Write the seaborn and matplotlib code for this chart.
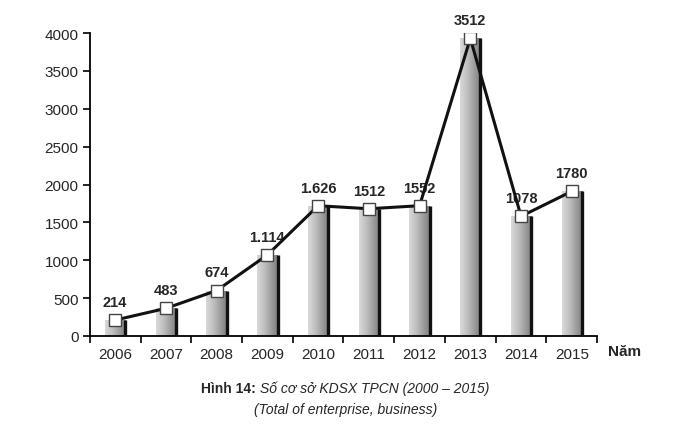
import numpy as np
import pandas as pd
import matplotlib
matplotlib.use("Agg")
import matplotlib.pyplot as plt
import seaborn as sns

# values as drawn (bar tops), and the labels printed in the chart
years = ["2006", "2007", "2008", "2009", "2010", "2011", "2012", "2013", "2014", "2015"]
bar_values = [210, 365, 600, 1070, 1720, 1680, 1720, 3930, 1580, 1910]
label_texts = ["214", "483", "674", "1.114", "1.626", "1512", "1552", "3512", "1078", "1780"]
y_ticks = [0, 500, 1000, 1500, 2000, 2500, 3000, 3500, 4000]

df = pd.DataFrame({"Year": years, "Value": bar_values})

sns.set_theme(style="white")
narrow = ["Liberation Sans Narrow", "Liberation Sans", "DejaVu Sans"]
plt.rcParams["font.family"] = narrow

fig = plt.figure(figsize=(6.96, 4.35), dpi=100)
ax = fig.add_axes([0.129, 0.2253, 0.729, 0.6965])

sns.barplot(data=df, x="Year", y="Value", color="#aaaaaa", width=0.4,
            saturation=1, ax=ax, zorder=2)

# gradient fill + dark right edge on each bar
grad = np.linspace(0.25, 0.58, 64).reshape(1, -1)
for p in ax.patches:
    x0, w, h = p.get_x(), p.get_width(), p.get_height()
    im = ax.imshow(grad, cmap="Greys", vmin=0, vmax=1, aspect="auto",
                   extent=[x0, x0 + w, 0, h], zorder=2.5)
    im.set_clip_path(p)
    p.set_edgecolor("none")
    ax.vlines(x0 + w, 0, h, color="#111111", lw=2.4, zorder=3)

sns.pointplot(data=df, x="Year", y="Value", color="#111111", markers="s",
              linestyles="-", linewidth=2.2, markersize=8,
              markerfacecolor="white", markeredgecolor="#444444",
              markeredgewidth=1, ax=ax, zorder=4)

for i, txt in enumerate(label_texts):
    ax.annotate(txt, (i, bar_values[i]), xytext=(0, 8), textcoords="offset points",
                ha="center", va="bottom", fontsize=10.5, fontweight="bold",
                annotation_clip=False)

ax.set_xlim(-0.5, len(years) - 0.5)
ax.set_ylim(0, 4000)
ax.set_yticks(y_ticks)
ax.set_yticklabels([str(v) for v in y_ticks], fontsize=11)
ax.set_xticks(range(len(years)))
ax.set_xticklabels(years, fontsize=11)
ax.set_xticks(np.arange(-0.5, len(years), 1), minor=True)
ax.tick_params(axis="x", which="major", length=0, pad=8)
ax.tick_params(axis="x", which="minor", length=5, width=1.2, color="black", direction="out", bottom=True)
ax.tick_params(axis="y", length=5, width=1.2, color="black", direction="out", left=True, pad=3)
ax.set_xlabel("")
ax.set_ylabel("")
for s in ["top", "right"]:
    ax.spines[s].set_visible(False)
for s in ["left", "bottom"]:
    ax.spines[s].set_color("black")
    ax.spines[s].set_linewidth(1.3)

fig.text(0.898, 0.19, "Năm", fontsize=11, fontweight="bold", ha="center", va="center")

# caption: bold prefix + italic title, centred together
cap_x, cap_y = 0.496, 0.106
t1 = fig.text(0, cap_y, "Hình 14: ", fontsize=10, fontweight="bold", ha="left", va="center")
t2 = fig.text(0, cap_y, "Số cơ sở KDSX TPCN (2000 – 2015)", fontsize=10, style="italic",
              ha="left", va="center")
fig.canvas.draw()
r = fig.canvas.get_renderer()
w1 = t1.get_window_extent(r).width / fig.bbox.width
w2 = t2.get_window_extent(r).width / fig.bbox.width
start = cap_x - (w1 + w2) / 2
t1.set_x(start)
t2.set_x(start + w1)
fig.text(cap_x, 0.057, "(Total of enterprise, business)", fontsize=10, style="italic",
         ha="center", va="center")

fig.savefig("out.png", dpi=100)
